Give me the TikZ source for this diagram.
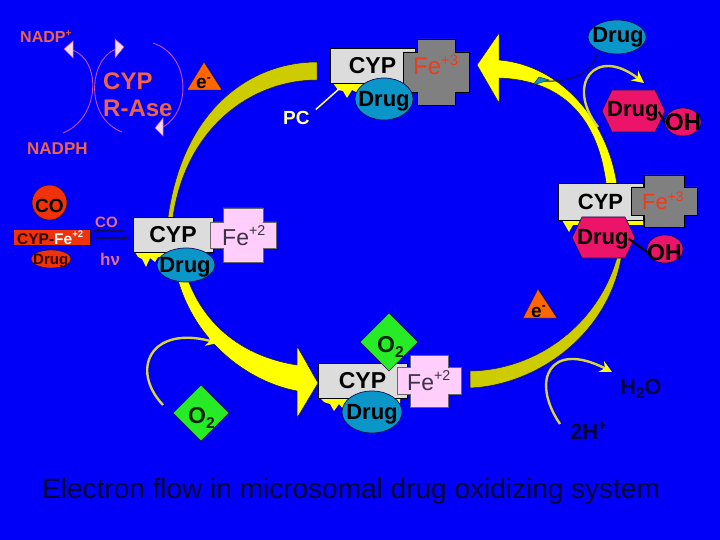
\documentclass[tikz,border=0pt]{standalone}
\usepackage{fontspec}
\setmainfont{Liberation Sans}
\usepackage{graphicx}
\usetikzlibrary{arrows.meta}
\definecolor{bg}{RGB}{0,0,250}
\definecolor{olivey}{RGB}{204,204,0}
\definecolor{brightyel}{RGB}{255,255,0}
\definecolor{boxgray}{RGB}{220,220,220}
\definecolor{fegray}{RGB}{128,128,128}
\definecolor{fepink}{RGB}{255,206,250}
\definecolor{teal2}{RGB}{10,150,200}
\definecolor{hexred}{RGB}{235,20,105}
\definecolor{ogreen}{RGB}{40,235,40}
\definecolor{eorange}{RGB}{255,102,0}
\definecolor{cored}{RGB}{240,50,10}
\definecolor{salmon}{RGB}{240,100,70}
\definecolor{pinkline}{RGB}{200,80,200}
\definecolor{pinktip}{RGB}{245,215,235}
\definecolor{cotext}{RGB}{230,110,140}
\definecolor{fered}{RGB}{235,60,30}
\definecolor{fedark}{RGB}{60,50,70}
\definecolor{navy}{RGB}{15,15,85}
\definecolor{darknavy}{RGB}{5,5,55}
\definecolor{edge}{RGB}{20,20,50}
\definecolor{pcyel}{RGB}{255,255,160}
\definecolor{thinyel}{RGB}{215,215,60}
\newcommand\fsz[1]{\fontsize{#1}{#1}\selectfont}
\newcommand\upx[1]{\raisebox{0.4em}{\scalebox{0.62}{#1}}}
\newcommand\dnx[1]{\raisebox{-0.22em}{\scalebox{0.68}{#1}}}
\newcommand\fecross[7]{\path[#7] (#1-#3,#2-#4) -- (#1+#3,#2-#4) -- (#1+#3,#2-#6) -- (#1+#5,#2-#6) -- (#1+#5,#2+#6) -- (#1+#3,#2+#6) -- (#1+#3,#2+#4) -- (#1-#3,#2+#4) -- (#1-#3,#2+#6) -- (#1-#5,#2+#6) -- (#1-#5,#2-#6) -- (#1-#3,#2-#6) -- cycle;}
\newcommand\hexat[4]{\path[fill=hexred, draw=navy, line width=0.6pt] (#1-#3,#2) -- (#1-#3+10,#2-#4) -- (#1+#3-10,#2-#4) -- (#1+#3,#2) -- (#1+#3-10,#2+#4) -- (#1-#3+10,#2+#4) -- cycle;}
\newcommand\diamat[3]{\path[fill=ogreen, draw=edge, line width=0.5pt] (#1,#2-#3) -- (#1+#3,#2) -- (#1,#2+#3) -- (#1-#3,#2) -- cycle;}
\begin{document}
\begin{tikzpicture}[x=1pt,y=-1pt,
  lbl/.style={inner sep=0pt, anchor=base west},
  ctr/.style={inner sep=0pt},
  cypbox/.style={draw=black, line width=0.6pt, fill=boxgray, inner sep=0pt, font=\fsz{23}\bfseries},
  yband/.style={draw=edge, line width=0.5pt},
  thinarrow/.style={thinyel, line width=2.4pt, -{Stealth[length=12pt,width=12pt,color=brightyel]}},
  pinkarc/.style={pinkline, line width=0.9pt},
  pinktipst/.style={fill=pinktip, draw=pinkline, line width=0.5pt},
  drugell/.style={fill=teal2, draw=navy, line width=0.7pt},
  grayx/.style={fill=fegray, draw=black, line width=0.6pt},
  pinkx/.style={fill=fepink, draw=black!60, line width=0.5pt},
]
\fill[bg] (0,0) rectangle (720,540);
\useasboundingbox (0,0) rectangle (720,540);

% ---- cycle segments
\path[fill=olivey, yband] (317,62) .. controls (250,62) and (180,110) .. (167,225) -- (172,225) .. controls (182,130) and (250,80) .. (317,80) -- cycle;
\path[fill=brightyel, yband] (173,255) .. controls (182,330) and (240,380) .. (297,391) -- (297,418) -- (318,383) -- (297,346) -- (297,365) .. controls (245,357) and (195,325) .. (181,255) -- cycle;
\path[fill=olivey, yband] (470,388) .. controls (540,385) and (615,330) .. (623,245) -- (620,245) .. controls (605,320) and (540,370) .. (470,371) -- cycle;
\path[fill=brightyel, yband] (618,192) .. controls (610,120) and (560,65) .. (499,60) -- (499,33) -- (477,65) -- (499,103) -- (499,78) .. controls (560,80) and (600,115) .. (607,192) -- cycle;

% ---- small arrows
\coordinate (o2s) at (163,405); \coordinate (o2e) at (218,343);
\draw[thinarrow] (o2s) .. controls (130,370) and (150,325) .. (o2e);
\coordinate (hs) at (560,424); \coordinate (he) at (612,372);
\draw[thinarrow] (hs) .. controls (530,380) and (550,340) .. (he);
\coordinate (ds) at (598,127); \coordinate (de) at (644,83);
\draw[thinarrow] (ds) .. controls (565,85) and (595,45) .. (de);

% ---- NADP / reductase
\node[lbl, font=\fsz{16}\bfseries, text=salmon] (nadpp) at (20,43) {NADP\upx{+}};
\node[lbl, font=\fsz{17}\bfseries, text=salmon] (nadph) at (27,155) {NADPH};
\node[lbl, font=\fsz{24}\bfseries, text=salmon] (cypr) at (103,90) {CYP};
\node[lbl, font=\fsz{24}\bfseries, text=salmon] (rase) at (103,117) {R-Ase};
\coordinate (a1s) at (63,133); \coordinate (a1e) at (72,50);
\draw[pinkarc] (a1s) .. controls (100,118) and (102,60) .. (a1e);
\path[pinktipst] (73,41) -- (73,58) -- (64,49) -- cycle;
\coordinate (a2s) at (122,132); \coordinate (a2e) at (116,49);
\draw[pinkarc] (a2s) .. controls (85,118) and (88,60) .. (a2e);
\path[pinktipst] (115,39) -- (115,58) -- (124,47) -- cycle;
\coordinate (a3s) at (153,43); \coordinate (a3e) at (163,127);
\draw[pinkarc] (a3s) .. controls (190,55) and (192,110) .. (a3e);
\path[pinktipst] (163,118) -- (163,136) -- (155,128) -- cycle;

% ---- electrons
\path[fill=eorange, draw=edge, line width=0.4pt] (204,62) -- (222,90) -- (187,90) -- cycle;
\node[lbl, font=\fsz{19}\bfseries, text=black] (e1) at (196,89) {e\upx{-}};
\path[fill=eorange, draw=edge, line width=0.4pt] (538,289) -- (557,318) -- (523,318) -- cycle;
\node[lbl, font=\fsz{19}\bfseries, text=black] (e2) at (531,317) {e\upx{-}};

% ---- top complex
\node[lbl, font=\fsz{19}\bfseries, text=pcyel] (pc) at (283,125) {PC};
\path[fill=brightyel] (333,83) -- (413,83) -- (413,89) -- (362,89) -- (358,93) -- (352,90) -- (347,98) -- (343,91) -- (338,90) -- cycle;
\node[cypbox, minimum width=85pt, minimum height=35pt] (topcyp) at (372.5,65.5) {CYP};
\fecross{436}{72}{19}{33}{33}{20}{grayx}
\node[lbl, font=\fsz{24}, text=fered] (topfe) at (413,75) {Fe\upx{+3}};
\path[drugell] (384,99) ellipse [x radius=29pt, y radius=21pt];
\node[ctr, font=\fsz{22}\bfseries] (topdrug) at (384,101) {Drug};
\draw[pcyel, line width=1.5pt] ([shift={(6,-2)}]pc.north east) -- ([shift={(10,5)}]topcyp.south west);

% ---- top right drug
\coordinate (trbot) at (598,53); \coordinate (wedge) at (545,81);
\draw[navy, line width=1pt] (trbot) .. controls (590,75) and (570,82) .. (wedge);
\path[fill=teal2, draw=navy, line width=0.4pt] (533,85) -- (539,77) -- (549,80) -- cycle;
\path[drugell] (617,37) ellipse [x radius=29pt, y radius=17pt];
\node[ctr, font=\fsz{22}\bfseries] (trdrug) at (618,37) {Drug};

\hexat{633.5}{111}{31.5}{21}
\path[fill=hexred, draw=navy, line width=0.6pt] (683,122) ellipse [x radius=18pt, y radius=14pt];
\node[lbl, font=\fsz{22}\bfseries] (hd1) at (607,117) {Drug};
\node[lbl, font=\fsz{24}\bfseries] (oh1) at (665,131) {OH};
\draw[black, line width=2pt] (hd1.east) -- (oh1.west);

% ---- right complex
\path[fill=brightyel] (562,220) -- (643,220) -- (643,225) -- (573,225) -- (569,232) -- (565,225) -- cycle;
\node[cypbox, minimum width=85pt, minimum height=37pt, font=\fsz{22}\bfseries] (rcyp) at (600.5,201.5) {CYP};
\fecross{664}{201}{20}{26}{33}{14}{grayx}
\node[lbl, font=\fsz{22}, text=fered] (rfe) at (642,210) {Fe\upx{+3}};
\hexat{603.5}{237.5}{31.5}{20.5}
\path[fill=hexred, draw=navy, line width=0.6pt] (665,249) ellipse [x radius=18pt, y radius=14pt];
\node[lbl, font=\fsz{22}\bfseries] (hd2) at (577,244) {Drug};
\node[lbl, font=\fsz{23}\bfseries] (oh2) at (647,260) {OH};
\draw[black, line width=2pt] (hd2.east) -- (oh2.west);

% ---- left complex
\path[fill=brightyel] (135,252) -- (205,252) -- (205,257) -- (158,257) -- (155,262) -- (150,258) -- (146,267) -- (142,259) -- (138,257) -- cycle;
\node[cypbox, minimum width=80pt, minimum height=35pt] (lcyp) at (173,234.5) {CYP};
\fecross{243}{235}{20}{27}{33}{13}{pinkx}
\node[lbl, font=\fsz{23}, text=fedark] (lfe) at (222,245) {Fe\upx{+2}};
\path[drugell] (186,265) ellipse [x radius=29pt, y radius=17pt];
\node[ctr, font=\fsz{22}\bfseries] (ldrug) at (185,267) {Drug};

% ---- CO complex
\path[fill=cored, draw=edge, line width=0.5pt] (49.5,202.5) ellipse [x radius=17.5pt, y radius=17.5pt];
\node[lbl, font=\fsz{19}\bfseries, text=black] (co1) at (35,213) {CO};
\path[fill=cored, draw=edge, line width=0.4pt] (13,229) rectangle (90,245);
\node[lbl, font=\fsz{15.5}\bfseries] (cypfe) at (17,244) {\textcolor{black!80!red}{CYP-}\textcolor{white}{Fe\upx{+2}}};
\path[fill=cored, draw=edge, line width=0.4pt] (51,259) ellipse [x radius=20pt, y radius=9pt];
\node[lbl, font=\fsz{15}\bfseries, text=black!80!red] (cod) at (33,264) {Drug};
\node[lbl, font=\fsz{15}\bfseries, text=cotext] (co2) at (95,228) {CO};
\node[lbl, font=\fsz{17}\bfseries, text=cotext] (hnu) at (100,265) {hν};
\coordinate (da1) at (124,231); \coordinate (da2) at (93,231);
\coordinate (db1) at (96,238); \coordinate (db2) at (129,238);
\draw[navy, line width=1.2pt, -{Stealth[length=6pt,width=5pt]}] (da1) -- (da2);
\draw[navy, line width=1.2pt, -{Stealth[length=6pt,width=5pt]}] (db1) -- (db2);

% ---- bottom complex
\path[fill=brightyel] (320,398) -- (400,398) -- (400,403) -- (347,403) -- (344,410) -- (339,404) -- (334,411) -- (330,404) -- (324,402) -- cycle;
\node[cypbox, minimum width=89pt, minimum height=35pt] (bcyp) at (362.5,380.5) {CYP};
\fecross{429}{381}{19}{26}{32}{13.5}{pinkx}
\node[lbl, font=\fsz{23}, text=fedark] (bfe) at (407,390) {Fe\upx{+2}};
\path[drugell] (372,412) ellipse [x radius=30pt, y radius=21pt];
\node[ctr, font=\fsz{22}\bfseries] (bdrug) at (372,414) {Drug};
\diamat{389}{342}{29}
\node[lbl, font=\fsz{23}\bfseries, text=black!85!green] (bo2) at (377,352) {O\dnx{2}};
\diamat{201}{413}{28}
\node[lbl, font=\fsz{23}\bfseries, text=black!85!green] (lo2) at (188,423) {O\dnx{2}};

% ---- water
\node[lbl, font=\fsz{22}\bfseries, text=darknavy] (h2o) at (620,394) {H\dnx{2}O};
\node[lbl, font=\fsz{22}\bfseries, text=darknavy] (twoh) at (570,439) {2H\upx{+}};

% ---- title
\node[lbl, font=\fsz{28}, text=darknavy] (title) at (42,498) {Electron flow in microsomal drug oxidizing system};
\end{tikzpicture}
\end{document}
